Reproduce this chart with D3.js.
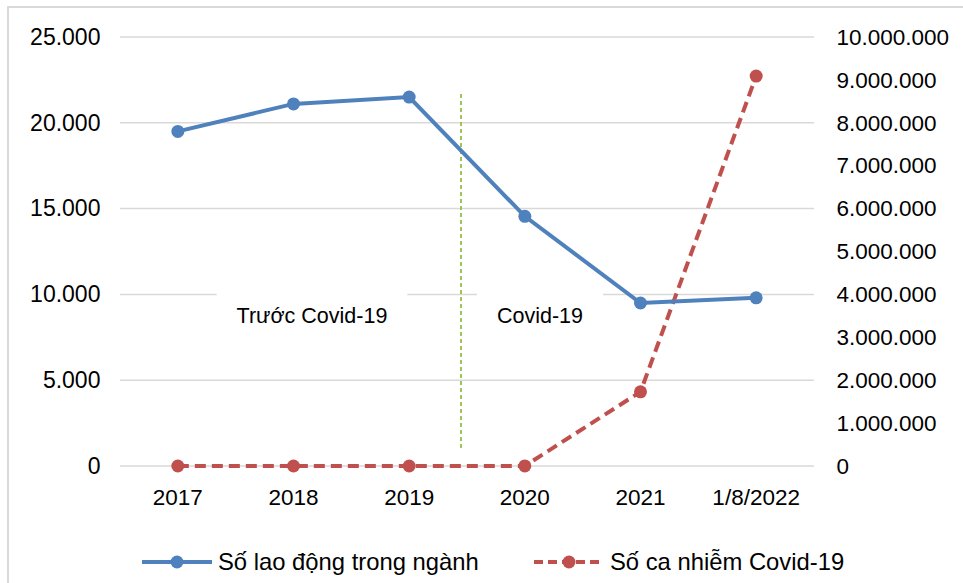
<!DOCTYPE html>
<html>
<head>
<meta charset="utf-8">
<script src="https://cdn.jsdelivr.net/npm/d3@7"></script>
<style>
  body { margin: 0; background: #fff; }
  text { font-family: "Liberation Sans", Arial, sans-serif; fill: #000; }
</style>
</head>
<body>
<div id="grafico"></div>
<script>
// Datos
const categorias = ["2017", "2018", "2019", "2020", "2021", "1/8/2022"];
const laoDong = [19500, 21100, 21500, 14550, 9500, 9800];
const caNhiem = [0, 0, 0, 1465, 1730000, 9090000];
const ticksTrai = [0, 5000, 10000, 15000, 20000, 25000];
const ticksPhai = [0, 1000000, 2000000, 3000000, 4000000, 5000000, 6000000, 7000000, 8000000, 9000000, 10000000];
const tenSeries = ["Số lao động trong ngành", "Số ca nhiễm Covid-19"];
const nhanGiaiDoan = ["Trước Covid-19", "Covid-19"];

const width = 963, height = 583;
const margin = {top: 37, right: 149, bottom: 117, left: 120};

const svg = d3.select("#grafico")
  .append("svg")
  .attr("width", width)
  .attr("height", height);

// Khung
svg.append("rect")
  .attr("x", 8).attr("y", 7)
  .attr("width", 980).attr("height", 600)
  .attr("fill", "none")
  .attr("stroke", "#d9d9d9")
  .attr("stroke-width", 2);

// Escalas
const x = d3.scaleBand()
  .domain(categorias)
  .range([margin.left, width - margin.right]);

const yL = d3.scaleLinear().domain([0, 25000]).range([height - margin.bottom, margin.top]);
const yR = d3.scaleLinear().domain([0, 10000000]).range([height - margin.bottom, margin.top]);

const fmt = v => d3.format(",")(v).replace(/,/g, ".");

// Lưới
svg.append("g")
  .selectAll("line")
  .data(ticksTrai)
  .join("line")
  .attr("x1", margin.left)
  .attr("x2", width - margin.right)
  .attr("y1", d => yL(d))
  .attr("y2", d => yL(d))
  .attr("stroke", "#d9d9d9")
  .attr("stroke-width", 1.5);

// Ejes
svg.append("g")
  .attr("transform", `translate(${margin.left - 20},0)`)
  .call(d3.axisLeft(yL).tickValues(ticksTrai).tickFormat(fmt).tickSize(0))
  .call(g => g.select(".domain").remove())
  .call(g => g.selectAll("text").attr("font-size", 23).attr("font-family", "Liberation Sans, Arial").attr("fill", "#000").attr("dx", "0.15em"));

svg.append("g")
  .attr("transform", `translate(${width - margin.right + 24},0)`)
  .call(d3.axisRight(yR).tickValues(ticksPhai).tickFormat(fmt).tickSize(0))
  .call(g => g.select(".domain").remove())
  .call(g => g.selectAll("text").attr("font-size", 22.5).attr("font-family", "Liberation Sans, Arial").attr("fill", "#000").attr("dx", "-0.2em"));

svg.append("g")
  .attr("transform", `translate(0,${height - margin.bottom + 20})`)
  .call(d3.axisBottom(x).tickSize(0))
  .call(g => g.select(".domain").remove())
  .call(g => g.selectAll("text").attr("font-size", 22.5).attr("font-family", "Liberation Sans, Arial").attr("fill", "#000"));

// Nhãn giai đoạn (nền trắng che lưới)
const nhanX = [312, 540];
nhanGiaiDoan.forEach((t, i) => {
  const g = svg.append("g");
  const txt = g.append("text")
    .attr("x", nhanX[i]).attr("y", 323)
    .attr("text-anchor", "middle")
    .attr("font-size", 21.5)
    .text(t);
  const bb = txt.node().getBBox();
  g.insert("rect", "text")
    .attr("x", bb.x - 20).attr("y", bb.y - 14)
    .attr("width", bb.width + 40).attr("height", bb.height + 28)
    .attr("fill", "#fff");
});

// Đường phân cách
svg.append("line")
  .attr("x1", 461).attr("x2", 461)
  .attr("y1", 94).attr("y2", 448)
  .attr("stroke", "#92c045")
  .attr("stroke-width", 1.8)
  .attr("stroke-dasharray", "4,3");

const cx = d => x(d) + x.bandwidth() / 2;
const blue = "#4f81bd", red = "#c0504d";

// Línea roja
svg.append("path")
  .datum(caNhiem)
  .attr("fill", "none")
  .attr("stroke", red)
  .attr("stroke-width", 4)
  .attr("stroke-dasharray", "11,6")
  .attr("d", d3.line().x((d, i) => cx(categorias[i])).y(d => yR(d)));

svg.append("g").selectAll("circle")
  .data(caNhiem)
  .join("circle")
  .attr("cx", (d, i) => cx(categorias[i]))
  .attr("cy", d => yR(d))
  .attr("r", 6.5)
  .attr("fill", red);

// Línea azul
svg.append("path")
  .datum(laoDong)
  .attr("fill", "none")
  .attr("stroke", blue)
  .attr("stroke-width", 4)
  .attr("d", d3.line().x((d, i) => cx(categorias[i])).y(d => yL(d)));

svg.append("g").selectAll("circle")
  .data(laoDong)
  .join("circle")
  .attr("cx", (d, i) => cx(categorias[i]))
  .attr("cy", d => yL(d))
  .attr("r", 6.5)
  .attr("fill", blue);

// Chú giải
const legend = [
  {x: 142, color: blue, dash: null},
  {x: 534, color: red, dash: "11,6"}
];
legend.forEach((l, i) => {
  const g = svg.append("g");
  g.append("line")
    .attr("x1", l.x).attr("x2", l.x + 70)
    .attr("y1", 562).attr("y2", 562)
    .attr("stroke", l.color).attr("stroke-width", 4)
    .attr("stroke-dasharray", l.dash ? "9,5" : null);
  g.append("circle")
    .attr("cx", l.x + 35).attr("cy", 562).attr("r", 6.5).attr("fill", l.color);
  g.append("text")
    .attr("x", l.x + 76).attr("y", 570)
    .attr("font-size", 23.8)
    .text(tenSeries[i]);
});
</script>
</body>
</html>
